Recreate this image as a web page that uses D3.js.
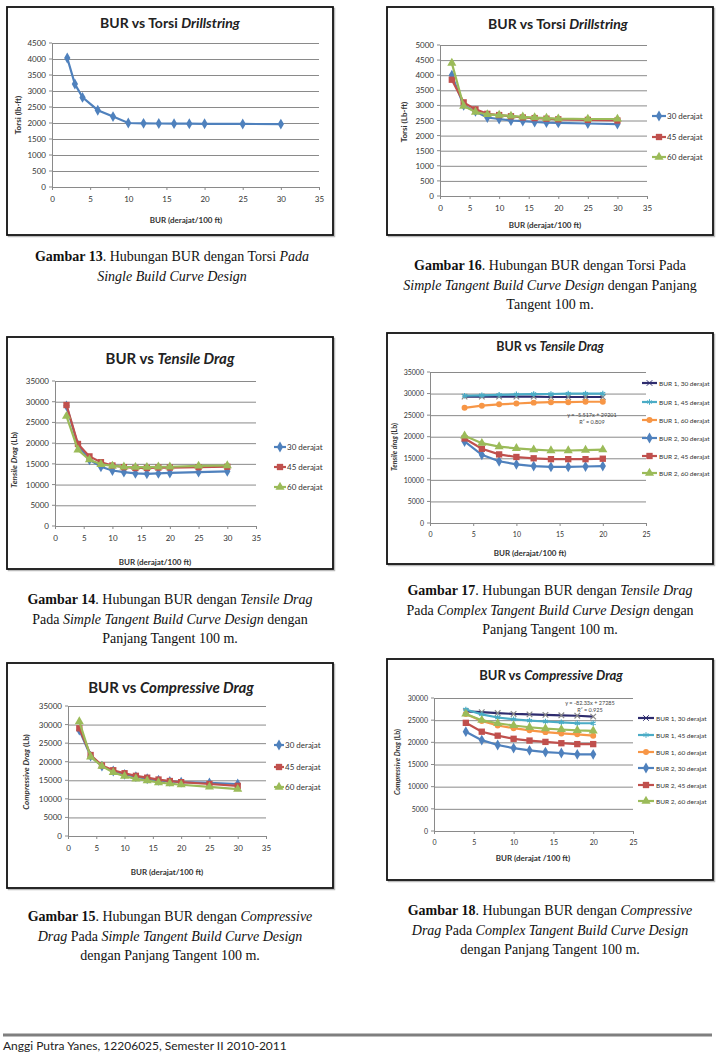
<!DOCTYPE html>
<html><head><meta charset="utf-8">
<script src="https://cdn.jsdelivr.net/npm/d3@7"></script>
<style>body{margin:0;background:#fff;} svg{display:block}</style>
</head><body>
<svg id="page" width="717" height="1054"></svg>
<script>
// ---------------- DATA ----------------
const xTicks35 = [0,5,10,15,20,25,30,35];
const xTicks25 = [0,5,10,15,20,25];
const yTicks4500 = [0,500,1000,1500,2000,2500,3000,3500,4000,4500];
const yTicks5000 = [0,500,1000,1500,2000,2500,3000,3500,4000,4500,5000];
const yTicks35000 = [0,5000,10000,15000,20000,25000,30000,35000];
const yTicks30000 = [0,5000,10000,15000,20000,25000,30000];

const names3 = ["30 derajat","45 derajat","60 derajat"];
const names6 = ["BUR 1, 30 derajat","BUR 1, 45 derajat","BUR 1, 60 derajat","BUR 2, 30 derajat","BUR 2, 45 derajat","BUR 2, 60 derajat"];

// Gambar 13 – Single Build Curve
const bur13 = [2,3,4,6,8,10,12,14,16,18,20,25,30];
const torsi13 = [4030,3220,2800,2400,2200,2000,1990,1985,1980,1978,1975,1970,1965];

// Gambar 16 – Torsi, Simple Tangent
const bur16 = [2,4,6,8,10,12,14,16,18,20,25,30];
const torsi16_30 = [4000,3000,2800,2600,2550,2500,2480,2450,2430,2420,2400,2380];
const torsi16_45 = [3850,3100,2870,2720,2680,2640,2600,2580,2560,2540,2520,2500];
const torsi16_60 = [4400,2980,2780,2700,2680,2650,2620,2600,2580,2560,2550,2550];

// Gambar 14 – Tensile Drag, Simple Tangent
const bur14 = [2,4,6,8,10,12,14,16,18,20,25,30];
const tensile14_30 = [29000,19500,16000,14300,13400,13000,12700,12600,12700,12800,13000,13200];
const tensile14_45 = [29200,19800,16800,15400,14600,14200,14000,14000,14100,14100,14200,14300];
const tensile14_60 = [26500,18400,16000,14900,14500,14300,14200,14200,14300,14300,14500,14600];

// Gambar 15 – Compressive Drag, Simple Tangent
const bur15 = [2,4,6,8,10,12,14,16,18,20,25,30];
const comp15_30 = [28500,21500,18800,17500,16600,16000,15400,15000,14700,14500,14300,14000];
const comp15_45 = [29000,21800,19000,17700,16900,16200,15700,15200,14800,14500,14000,13500];
const comp15_60 = [30800,21300,18800,17100,16100,15400,14900,14400,14100,13800,13200,12600];

// Gambar 17 – Tensile Drag, Complex Tangent
const bur17 = [4,6,8,10,12,14,16,18,20];
const tensile17_b1_30 = [29300,29300,29300,29300,29300,29200,29200,29200,29200];
const tensile17_b1_45 = [29500,29600,29700,29800,29900,29900,30000,30000,30000];
const tensile17_b1_60 = [26700,27200,27500,27700,27900,28000,28000,28100,28100];
const tensile17_b2_30 = [18900,15800,14300,13600,13200,13000,13000,13100,13200];
const tensile17_b2_45 = [19600,17200,15900,15300,15000,14800,14800,14800,14900];
const tensile17_b2_60 = [20200,18500,17700,17300,17000,16800,16800,16900,17000];
const trend17 = ["y = -5.517x + 29201","R² = 0.809"];

// Gambar 18 – Compressive Drag, Complex Tangent
const bur18 = [4,6,8,10,12,14,16,18,20];
const comp18_b1_30 = [27000,26800,26600,26400,26300,26200,26100,26000,25800];
const comp18_b1_45 = [27400,26300,25600,25200,24900,24700,24500,24300,24300];
const comp18_b1_60 = [26400,24800,23800,23200,22700,22300,22000,21800,21500];
const comp18_b2_30 = [22400,20500,19400,18700,18200,17800,17600,17300,17300];
const comp18_b2_45 = [24400,22400,21500,20800,20400,20100,19800,19600,19600];
const comp18_b2_60 = [26400,25000,24300,23800,23400,23100,22900,22700,22600];
const trend18 = ["y = -82.33x + 27285","R² = 0.925"];

// ---------------- STYLE ----------------
const C = {blue:"#4F81BD", red:"#C0504D", green:"#9BBB59", navy:"#2E2C6E", aqua:"#4BACC6", orange:"#F79646"};
const symTimes = d3.symbolTimes || d3.symbolX || d3.symbolCross;
const M = {
  diamond:{type:d3.symbolDiamond,size:34,fill:true},
  square:{type:d3.symbolSquare,size:40,fill:true},
  triangle:{type:d3.symbolTriangle,size:36,fill:true},
  times:{type:symTimes,size:22,fill:false},
  asterisk:{type:d3.symbolAsterisk,size:22,fill:false},
  circle:{type:d3.symbolCircle,size:28,fill:true}
};
const FS = "Lato, 'Open Sans', sans-serif";
const SERIF = "'Liberation Serif', 'DejaVu Serif', serif";
const svg = d3.select("#page");

function addParts(t, parts){
  parts.forEach(p=>{
    const s = t.append("tspan").text(p[0]);
    if(p[1]&&p[1].includes("i")) s.attr("font-style","italic");
    if(p[1]&&p[1].includes("b")) s.attr("font-weight","bold");
  });
}

function drawChart(cfg){
  const g = svg.append("g");
  const [fx1,fy1,fx2,fy2] = cfg.frame;
  g.append("rect").attr("x",fx1+1.5).attr("y",fy1+1.5).attr("width",fx2-fx1).attr("height",fy2-fy1)
    .attr("fill","none").attr("stroke","#bbb").attr("stroke-width",1.5);
  g.append("rect").attr("x",fx1).attr("y",fy1).attr("width",fx2-fx1).attr("height",fy2-fy1)
    .attr("fill","#fff").attr("stroke","#111").attr("stroke-width",1.8);

  const x = d3.scaleLinear().domain([0,cfg.xMax]).range(cfg.px);
  const y = d3.scaleLinear().domain([0,cfg.yMax]).range([cfg.py[1],cfg.py[0]]);
  const w = cfg.px[1]-cfg.px[0];

  const ya = g.append("g").attr("transform",`translate(${cfg.px[0]},0)`)
    .call(d3.axisLeft(y).tickValues(cfg.yTicks).tickSizeInner(-w).tickSizeOuter(0).tickPadding(6).tickFormat(d3.format("d")));
  ya.selectAll(".tick line").attr("stroke","#8a8a8a").attr("stroke-width",1);
  ya.select(".domain").attr("stroke","#8a8a8a");
  ya.selectAll("text").attr("font-family",FS).attr("font-size",cfg.tickFs||8).attr("fill","#333");
  g.append("g").selectAll("line").data(cfg.yTicks).join("line")
    .attr("x1",cfg.px[0]-3).attr("x2",cfg.px[0]).attr("y1",d=>y(d)).attr("y2",d=>y(d)).attr("stroke","#8a8a8a");

  const xa = g.append("g").attr("transform",`translate(0,${cfg.py[1]})`)
    .call(d3.axisBottom(x).tickValues(cfg.xTicks).tickSizeInner(3).tickSizeOuter(0).tickPadding(cfg.xPad||6));
  xa.selectAll(".tick line").attr("stroke","#8a8a8a");
  xa.select(".domain").attr("stroke","#8a8a8a");
  xa.selectAll("text").attr("font-family",FS).attr("font-size",cfg.tickFs||8).attr("fill","#333");

  const line = d3.line().x(d=>x(d[0])).y(d=>y(d[1]));
  cfg.series.forEach(s=>{
    const pts = s.x.map((v,i)=>[v,s.y[i]]);
    g.append("path").attr("d",line(pts)).attr("fill","none").attr("stroke",s.color).attr("stroke-width",s.lw||2.2);
    const m = M[s.marker];
    const sym = d3.symbol().type(m.type).size(m.size);
    g.append("g").selectAll("path").data(pts).join("path")
      .attr("transform",d=>`translate(${x(d[0])},${y(d[1])})`)
      .attr("d",sym())
      .attr("fill",m.fill?s.color:"none").attr("stroke",m.fill?"none":s.mcolor||s.color).attr("stroke-width",1.2);
  });

  if(cfg.legend){
    const L = cfg.legend;
    cfg.series.forEach((s,i)=>{
      const ly = L.ys[i];
      g.append("line").attr("x1",L.x1).attr("x2",L.x2).attr("y1",ly).attr("y2",ly).attr("stroke",s.color).attr("stroke-width",2.2);
      const m = M[s.marker];
      g.append("path").attr("transform",`translate(${(L.x1+L.x2)/2},${ly})`).attr("d",d3.symbol().type(m.type).size(m.size)())
        .attr("fill",m.fill?s.color:"none").attr("stroke",m.fill?"none":s.color);
      g.append("text").attr("x",L.tx).attr("y",ly+3).attr("font-family",FS).attr("font-size",L.fs||8).attr("fill","#333").text(s.name);
    });
  }
  const t = g.append("text").attr("x",cfg.title.x).attr("y",cfg.title.y).attr("text-anchor","middle")
    .attr("font-family",FS).attr("font-weight","bold").attr("font-size",cfg.title.fs).attr("fill","#222");
  addParts(t,cfg.title.parts);
  g.append("text").attr("x",cfg.xLabel.x).attr("y",cfg.xLabel.y).attr("text-anchor","middle")
    .attr("font-family",FS).attr("font-weight","bold").attr("font-size",8).attr("fill","#333").text("BUR (derajat"+(cfg.xLabel.sp?" ":"")+"/100 ft)");
  const yl = g.append("text").attr("transform",`translate(${cfg.yLabel.x},${cfg.yLabel.y}) rotate(-90)`).attr("text-anchor","middle")
    .attr("font-family",FS).attr("font-weight","bold").attr("font-size",cfg.yLabel.fs||8).attr("fill","#333");
  addParts(yl,cfg.yLabel.parts);
  if(cfg.trend){
    cfg.trend.lines.forEach((s,i)=>{
      g.append("text").attr("x",cfg.trend.x).attr("y",cfg.trend.y+i*7).attr("text-anchor","middle")
        .attr("font-family",FS).attr("font-size",5.5).attr("fill","#444").text(s);
    });
  }
}

function caption(cx, y0, lines){
  lines.forEach((ln,i)=>{
    const t = svg.append("text").attr("x",cx).attr("y",y0+i*19.5).attr("text-anchor","middle")
      .attr("font-family",SERIF).attr("font-size",14).attr("fill","#111");
    addParts(t,ln);
  });
}

// ---------------- CHARTS ----------------
drawChart({frame:[7,7,333,235], px:[52,319], py:[43,187], xMax:35, yMax:4500, xTicks:xTicks35, yTicks:yTicks4500,
  series:[{x:bur13,y:torsi13,color:C.blue,marker:"diamond"}],
  title:{x:170,y:28,fs:14,parts:[["BUR vs Torsi "],["Drillstring","i"]]},
  xLabel:{x:186,y:223}, yLabel:{x:21,y:115,parts:[["Torsi (lb-ft)"]]}});

drawChart({frame:[387,7,713,235], px:[440,647], py:[45,196], xMax:35, yMax:5000, xTicks:xTicks35, yTicks:yTicks5000,
  series:[{x:bur16,y:torsi16_30,color:C.blue,marker:"diamond",name:names3[0]},
          {x:bur16,y:torsi16_45,color:C.red,marker:"square",name:names3[1]},
          {x:bur16,y:torsi16_60,color:C.green,marker:"triangle",name:names3[2]}],
  legend:{x1:652,x2:666,tx:667,ys:[116,137,157]},
  title:{x:558,y:29,fs:14,parts:[["BUR vs Torsi "],["Drillstring","i"]]},
  xLabel:{x:545,y:228}, yLabel:{x:407,y:122,parts:[["Torsi (Lb-ft)"]]}});

drawChart({frame:[7,337,333,569], px:[55,256], py:[381,526], xMax:35, yMax:35000, xTicks:xTicks35, yTicks:yTicks35000,
  series:[{x:bur14,y:tensile14_30,color:C.blue,marker:"diamond",name:names3[0]},
          {x:bur14,y:tensile14_45,color:C.red,marker:"square",name:names3[1]},
          {x:bur14,y:tensile14_60,color:C.green,marker:"triangle",name:names3[2]}],
  legend:{x1:274,x2:286,tx:287,ys:[447,467,487]},
  title:{x:170,y:364,fs:15,parts:[["BUR vs "],["Tensile Drag","i"]]},
  xLabel:{x:155,y:565}, yLabel:{x:17,y:460,parts:[["Tensile Drag","i"],[" (Lb)"]]}});

drawChart({frame:[387,333,713,564], px:[430,646], py:[372,523], xMax:25, yMax:35000, xTicks:xTicks25, yTicks:yTicks35000, tickFs:7,
  series:[{x:bur17,y:tensile17_b1_30,color:C.navy,marker:"times",name:names6[0],mcolor:"#888"},
          {x:bur17,y:tensile17_b1_45,color:C.aqua,marker:"asterisk",name:names6[1]},
          {x:bur17,y:tensile17_b1_60,color:C.orange,marker:"circle",name:names6[2]},
          {x:bur17,y:tensile17_b2_30,color:C.blue,marker:"diamond",name:names6[3]},
          {x:bur17,y:tensile17_b2_45,color:C.red,marker:"square",name:names6[4]},
          {x:bur17,y:tensile17_b2_60,color:C.green,marker:"triangle",name:names6[5]}],
  legend:{x1:642,x2:657,tx:659,ys:[383,402,420,438,456,473],fs:6.5},
  trend:{x:592,y:417,lines:trend17},
  title:{x:550,y:351,fs:12.5,parts:[["BUR vs "],["Tensile Drag","i"]]},
  xLabel:{x:530,y:556}, yLabel:{x:397,y:447,fs:7,parts:[["Tensile drag","i"],[" (Lb)"]]}});

drawChart({frame:[7,663,333,888], px:[68,266], py:[706,836], xMax:35, yMax:35000, xTicks:xTicks35, yTicks:yTicks35000,
  series:[{x:bur15,y:comp15_30,color:C.blue,marker:"diamond",name:names3[0]},
          {x:bur15,y:comp15_45,color:C.red,marker:"square",name:names3[1]},
          {x:bur15,y:comp15_60,color:C.green,marker:"triangle",name:names3[2]}],
  legend:{x1:274,x2:284,tx:285,ys:[745,767,787]},
  title:{x:171,y:693,fs:15,parts:[["BUR vs "],["Compressive Drag","i"]]},
  xLabel:{x:167,y:875}, yLabel:{x:29,y:772,parts:[["Compressive Drag","i"],[" (Lb)"]]}});

drawChart({frame:[387,659,713,880], px:[434,633], py:[698,831], xMax:25, yMax:30000, xTicks:xTicks25, yTicks:yTicks30000, tickFs:7,
  series:[{x:bur18,y:comp18_b1_30,color:C.navy,marker:"times",name:names6[0],mcolor:"#888"},
          {x:bur18,y:comp18_b1_45,color:C.aqua,marker:"asterisk",name:names6[1]},
          {x:bur18,y:comp18_b1_60,color:C.orange,marker:"circle",name:names6[2]},
          {x:bur18,y:comp18_b2_30,color:C.blue,marker:"diamond",name:names6[3]},
          {x:bur18,y:comp18_b2_45,color:C.red,marker:"square",name:names6[4]},
          {x:bur18,y:comp18_b2_60,color:C.green,marker:"triangle",name:names6[5]}],
  legend:{x1:638,x2:654,tx:656,ys:[718,735,752,768,785,801],fs:6.5},
  trend:{x:590,y:705,lines:trend18},
  title:{x:551,y:680,fs:13,parts:[["BUR vs "],["Compressive Drag","i"]]},
  xLabel:{x:533,y:861,sp:true}, yLabel:{x:400,y:762,fs:7,parts:[["Compressive Drag","i"],[" (Lb)"]]}});

// ---------------- CAPTIONS ----------------
caption(172,261,[[["Gambar 13","b"],[". Hubungan BUR dengan Torsi "],["Pada","i"]],[["Single Build Curve Design","i"]]]);
caption(550,270,[[["Gambar 16","b"],[". Hubungan BUR dengan Torsi Pada"]],[["Simple Tangent Build Curve Design","i"],[" dengan Panjang"]],[["Tangent 100 m."]]]);
caption(170,604,[[["Gambar 14","b"],[". Hubungan BUR dengan "],["Tensile Drag","i"]],[["Pada "],["Simple Tangent Build Curve Design","i"],[" dengan"]],[["Panjang Tangent 100 m."]]]);
caption(550,595,[[["Gambar 17","b"],[". Hubungan BUR dengan "],["Tensile Drag","i"]],[["Pada "],["Complex Tangent Build Curve Design","i"],[" dengan"]],[["Panjang Tangent 100 m."]]]);
caption(170,921,[[["Gambar 15","b"],[". Hubungan BUR dengan "],["Compressive","i"]],[["Drag","i"],[" Pada "],["Simple Tangent Build Curve Design","i"]],[["dengan Panjang Tangent 100 m."]]]);
caption(550,915,[[["Gambar 18","b"],[". Hubungan BUR dengan "],["Compressive","i"]],[["Drag","i"],[" Pada "],["Complex Tangent Build Curve Design","i"]],[["dengan Panjang Tangent 100 m."]]]);

// footer
svg.append("line").attr("x1",3).attr("x2",712).attr("y1",1035).attr("y2",1035).attr("stroke","#7f7f7f").attr("stroke-width",3);
svg.append("text").attr("x",3).attr("y",1050).attr("font-family",FS).attr("font-size",12).attr("fill","#222")
  .text("Anggi Putra Yanes, 12206025, Semester II 2010-2011");
</script>
</body></html>
